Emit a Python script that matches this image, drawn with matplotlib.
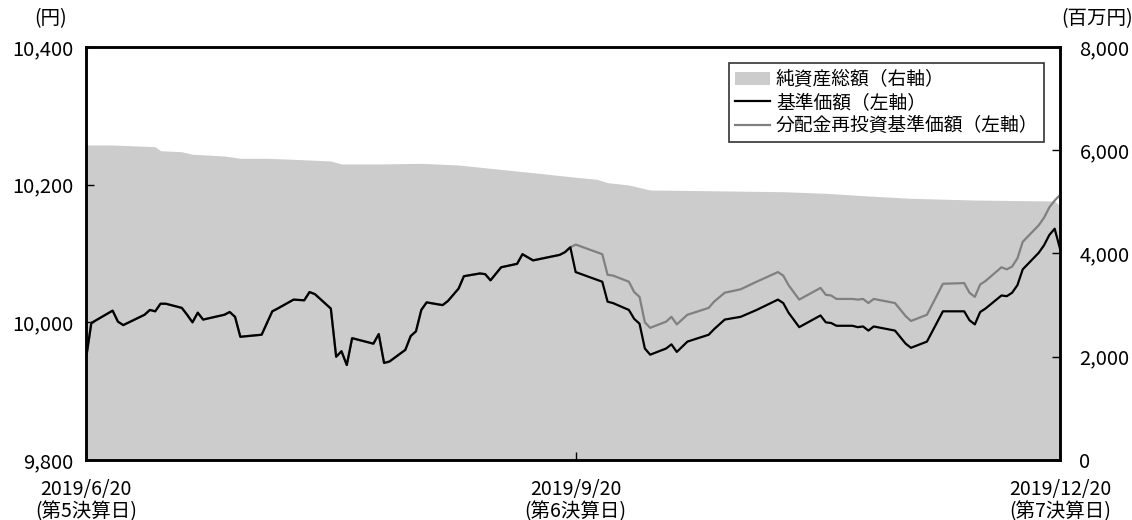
import matplotlib
matplotlib.use("Agg")
import matplotlib.pyplot as plt
from matplotlib.patches import Patch
from matplotlib.lines import Line2D
import pandas as pd

plt.rcParams['font.family'] = ['Noto Sans CJK JP', 'DejaVu Sans']

# 基準価額（左軸）
nav_dates = ["2019-06-20","2019-06-21","2019-06-25","2019-06-26","2019-06-27","2019-07-01","2019-07-02",
             "2019-07-03","2019-07-04","2019-07-05","2019-07-08","2019-07-09","2019-07-10","2019-07-11",
             "2019-07-12","2019-07-16","2019-07-17","2019-07-18","2019-07-19","2019-07-23","2019-07-25",
             "2019-07-26","2019-07-29","2019-07-31","2019-08-01","2019-08-02","2019-08-05","2019-08-06",
             "2019-08-07","2019-08-08","2019-08-09","2019-08-13","2019-08-14","2019-08-15","2019-08-16",
             "2019-08-19","2019-08-20","2019-08-21","2019-08-22","2019-08-23","2019-08-26","2019-08-27",
             "2019-08-29","2019-08-30","2019-09-02","2019-09-03","2019-09-04","2019-09-06","2019-09-09",
             "2019-09-10","2019-09-12","2019-09-17","2019-09-18","2019-09-19","2019-09-20","2019-09-25",
             "2019-09-26","2019-09-27","2019-09-30","2019-10-01","2019-10-02","2019-10-03","2019-10-04",
             "2019-10-07","2019-10-08","2019-10-09","2019-10-11","2019-10-15","2019-10-16","2019-10-18",
             "2019-10-21","2019-10-24","2019-10-28","2019-10-29","2019-10-30","2019-11-01","2019-11-05",
             "2019-11-06","2019-11-07","2019-11-08","2019-11-11","2019-11-12","2019-11-13","2019-11-14",
             "2019-11-15","2019-11-19","2019-11-21","2019-11-22","2019-11-25","2019-11-28","2019-12-02",
             "2019-12-03","2019-12-04","2019-12-05","2019-12-06","2019-12-09","2019-12-10","2019-12-11",
             "2019-12-12","2019-12-13","2019-12-16","2019-12-17","2019-12-18","2019-12-19","2019-12-20"]
nav_values = [9947, 9999, 10017, 10001, 9996, 10011, 10018,
              10016, 10027, 10027, 10021, 10011, 10000, 10014,
              10004, 10011, 10015, 10008, 9979, 9982, 10016,
              10020, 10033, 10032, 10044, 10041, 10020, 9950,
              9958, 9938, 9977, 9969, 9983, 9941, 9943,
              9960, 9980, 9987, 10018, 10029, 10025, 10031,
              10049, 10067, 10071, 10070, 10061, 10080, 10085,
              10099, 10090, 10098, 10102, 10109, 10073, 10059,
              10030, 10028, 10018, 10005, 9998, 9962, 9953,
              9962, 9968, 9957, 9972, 9982, 9990, 10004,
              10008, 10018, 10033, 10028, 10014, 9993, 10010,
              10000, 9999, 9995, 9995, 9993, 9994, 9988,
              9994, 9988, 9969, 9963, 9972, 10016, 10016,
              10003, 9997, 10015, 10020, 10039, 10038, 10043,
              10054, 10077, 10101, 10112, 10127, 10136, 10107]

# 分配金再投資基準価額（左軸）
reinv_values = [9947, 9999, 10017, 10001, 9996, 10011, 10018,
                10016, 10027, 10027, 10021, 10011, 10000, 10014,
                10004, 10011, 10015, 10008, 9979, 9982, 10016,
                10020, 10033, 10032, 10044, 10041, 10020, 9950,
                9958, 9938, 9977, 9969, 9983, 9941, 9943,
                9960, 9980, 9987, 10018, 10029, 10025, 10031,
                10049, 10067, 10071, 10070, 10061, 10080, 10085,
                10099, 10090, 10098, 10102, 10109, 10113, 10099,
                10069, 10068, 10059, 10044, 10037, 10000, 9992,
                10001, 10008, 9997, 10011, 10021, 10030, 10043,
                10048, 10059, 10073, 10068, 10054, 10033, 10050,
                10040, 10039, 10034, 10034, 10033, 10034, 10028,
                10034, 10028, 10009, 10002, 10011, 10056, 10057,
                10043, 10037, 10055, 10060, 10080, 10077, 10081,
                10093, 10117, 10141, 10152, 10167, 10177, 10185]

# 純資産総額（右軸, 百万円）
assets_dates = ["2019-06-20","2019-06-25","2019-07-03","2019-07-04","2019-07-08","2019-07-10","2019-07-16",
                "2019-07-19","2019-07-24","2019-07-29","2019-08-05","2019-08-07","2019-08-14","2019-08-22",
                "2019-08-29","2019-09-04","2019-09-12","2019-09-19","2019-09-24","2019-09-26","2019-09-30",
                "2019-10-04","2019-10-15","2019-10-29","2019-11-06","2019-11-14","2019-11-22","2019-12-04",
                "2019-12-19","2019-12-20"]
assets_values = [6102, 6102, 6069, 5991, 5972, 5922, 5889,
                 5844, 5844, 5825, 5792, 5734, 5734, 5747,
                 5714, 5650, 5565, 5488, 5437, 5372, 5327,
                 5230, 5216, 5197, 5166, 5114, 5069, 5036,
                 5017, 4920]

xtick_dates = ["2019-06-20", "2019-09-20", "2019-12-20"]
xtick_labels = ["2019/6/20\n(第5決算日)", "2019/9/20\n(第6決算日)", "2019/12/20\n(第7決算日)"]
left_ticks = [9800, 10000, 10200, 10400]
right_ticks = [0, 2000, 4000, 6000, 8000]

nd = pd.to_datetime(nav_dates)
ad = pd.to_datetime(assets_dates)
xd = pd.to_datetime(xtick_dates)

fig = plt.figure(figsize=(11.32, 5.2), dpi=100)
ax_r = fig.add_axes([86/1132, 1-460/520, (1060-86)/1132, (460-47)/520])
ax_l = ax_r.twinx()

ax_r.fill_between(ad, 0, assets_values, color='#cccccc', linewidth=0)
ax_r.set_ylim(0, 8000)
ax_r.yaxis.tick_right()
ax_r.set_yticks(right_ticks)
ax_r.set_yticklabels([f"{v:,}" for v in right_ticks])

ax_l.plot(nd, reinv_values, color='#808080', lw=1.6)
ax_l.plot(nd, nav_values, color='black', lw=1.6)
ax_l.set_ylim(9800, 10400)
ax_l.yaxis.tick_left()
ax_l.set_yticks(left_ticks)
ax_l.set_yticklabels([f"{v:,}" for v in left_ticks])

ax_r.set_xlim(xd[0], xd[-1])
ax_r.set_xticks(xd)
ax_r.set_xticklabels(xtick_labels, linespacing=1.05)

for a in (ax_r, ax_l):
    for s in a.spines.values():
        s.set_linewidth(1.8)
        s.set_color('black')
    a.tick_params(direction='in', length=6, width=1, labelsize=14.5, colors='black')
ax_r.tick_params(axis='y', pad=14)
ax_l.tick_params(axis='y', pad=9)
ax_r.tick_params(axis='x', pad=14, labelsize=14)
for lab in ax_r.get_yticklabels():
    lab.set_horizontalalignment('left')

fig.text(51/1132, 1-19/520, "(円)", ha='center', va='center', fontsize=14)
fig.text(1097/1132, 1-19/520, "(百万円)", ha='center', va='center', fontsize=14)

handles = [Patch(facecolor='#cccccc', edgecolor='none'),
           Line2D([], [], color='black', lw=1.6),
           Line2D([], [], color='#808080', lw=1.6)]
labels = ["純資産総額（右軸）", "基準価額（左軸）", "分配金再投資基準価額（左軸）"]
leg = ax_l.legend(handles, labels, loc='upper left', bbox_to_anchor=(729/1132, 1-63/520),
                  bbox_transform=fig.transFigure, fontsize=13.5, frameon=True, fancybox=False,
                  edgecolor='#333333', framealpha=1, borderpad=0.3, labelspacing=0.12,
                  handlelength=1.9, handletextpad=0.3, borderaxespad=0)
leg.get_frame().set_linewidth(1.2)

fig.savefig("out.png", dpi=100)
